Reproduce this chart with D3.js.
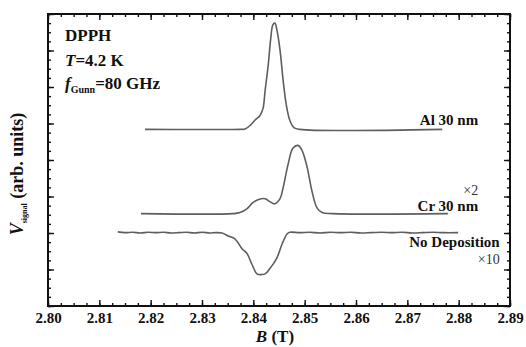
<!DOCTYPE html>
<html>
<head>
<meta charset="utf-8">
<script src="https://cdnjs.cloudflare.com/ajax/libs/d3/7.8.5/d3.min.js"></script>
<style>
  body { margin: 0; background: #fff; }
  svg text { font-family: "Liberation Serif", "Times New Roman", Times, serif !important; }
</style>
</head>
<body>
<svg id="chart" width="526" height="347"></svg>
<script>
// x ticks (T)
var xTicks = [2.80, 2.81, 2.82, 2.83, 2.84, 2.85, 2.86, 2.87, 2.88, 2.89];

// Al 30 nm trace
var alB = [2.8189, 2.8374, 2.8384, 2.8394, 2.8403, 2.8413, 2.8419, 2.8423, 2.8429, 2.8434, 2.8438, 2.8442, 2.8446, 2.8452, 2.8458, 2.8464, 2.8471, 2.8479, 2.8491, 2.8768];
var alV = [4.84, 4.84, 4.85, 4.95, 5.09, 5.22, 5.42, 5.91, 6.60, 7.34, 7.70, 7.75, 7.56, 7.01, 6.19, 5.53, 5.09, 4.89, 4.84, 4.84];

// Cr 30 nm trace (x2)
var crB = [2.8181, 2.8360, 2.8374, 2.8388, 2.8399, 2.8409, 2.8423, 2.8432, 2.8442, 2.8452, 2.8458, 2.8468, 2.8477, 2.8487, 2.8495, 2.8505, 2.8514, 2.8524, 2.8534, 2.8555, 2.8779];
var crV = [2.53, 2.53, 2.56, 2.67, 2.83, 2.91, 2.94, 2.86, 2.80, 2.94, 3.24, 3.90, 4.32, 4.40, 4.26, 3.79, 3.16, 2.69, 2.56, 2.53, 2.53];

// No deposition trace (x10)
var ndB = [2.8136, 2.8150, 2.8165, 2.8180, 2.8195, 2.8210, 2.8225, 2.8240, 2.8255, 2.8270, 2.8285, 2.8300, 2.8315, 2.8327, 2.8339, 2.8351, 2.8364, 2.8378, 2.8388, 2.8397, 2.8407, 2.8415, 2.8423, 2.8432, 2.8446, 2.8456, 2.8466, 2.8471, 2.8490, 2.8510, 2.8530, 2.8550, 2.8570, 2.8590, 2.8610, 2.8630, 2.8650, 2.8670, 2.8690, 2.8710, 2.8730, 2.8750, 2.8770, 2.8799];
var ndV = [2.03, 2.01, 2.02, 2.00, 2.02, 2.01, 2.02, 2.00, 2.01, 2.02, 2.00, 2.02, 2.00, 2.01, 2.00, 1.92, 1.84, 1.57, 1.43, 1.15, 0.88, 0.86, 0.88, 1.02, 1.32, 1.70, 1.98, 2.02, 2.01, 2.02, 2.00, 2.02, 2.01, 2.02, 2.00, 2.01, 2.02, 2.01, 2.02, 2.00, 2.01, 2.02, 2.01, 2.01];

var svg = d3.select("#chart");
var margin = {left: 48, right: 16, top: 14, bottom: 41};
var width = 526 - margin.left - margin.right;
var height = 347 - margin.top - margin.bottom;

var x = d3.scaleLinear().domain([2.80, 2.89]).range([0, width]);
var y = d3.scaleLinear().domain([0, 8]).range([height, 0]);

var g = svg.append("g").attr("transform", "translate(" + margin.left + "," + margin.top + ")");

var xMinor = d3.range(0, 37).map(function(i) { return 2.80 + i * 0.0025; });
var yMajor = d3.range(0, 9);
var yMinor = d3.range(0, 33).map(function(i) { return i * 0.25; });

function styleAxis(sel) {
  sel.select(".domain").remove();
  sel.selectAll("line").attr("stroke", "#111").attr("stroke-width", 1.4);
}

// bottom
g.append("g").attr("transform", "translate(0," + height + ")")
  .call(d3.axisBottom(x).tickValues(xMinor).tickSize(-3).tickFormat(""))
  .call(styleAxis);
g.append("g").attr("transform", "translate(0," + height + ")")
  .call(d3.axisBottom(x).tickValues(xTicks).tickSize(-6).tickPadding(14).tickFormat(d3.format(".2f")))
  .call(styleAxis)
  .call(function(s) {
    s.selectAll("text").attr("fill", "#111").attr("font-size", 15).attr("font-weight", "bold").attr("dy", "0.2em");
  });
// top
g.append("g").call(d3.axisTop(x).tickValues(xMinor).tickSize(-3).tickFormat("")).call(styleAxis);
g.append("g").call(d3.axisTop(x).tickValues(xTicks).tickSize(-6).tickFormat("")).call(styleAxis);
// left
g.append("g").call(d3.axisLeft(y).tickValues(yMinor).tickSize(-3).tickFormat("")).call(styleAxis);
g.append("g").call(d3.axisLeft(y).tickValues(yMajor).tickSize(-6).tickFormat("")).call(styleAxis);
// right
g.append("g").attr("transform", "translate(" + width + ",0)")
  .call(d3.axisRight(y).tickValues(yMinor).tickSize(-3).tickFormat("")).call(styleAxis);
g.append("g").attr("transform", "translate(" + width + ",0)")
  .call(d3.axisRight(y).tickValues(yMajor).tickSize(-6).tickFormat("")).call(styleAxis);

// frame
g.append("rect").attr("width", width).attr("height", height)
  .attr("fill", "none").attr("stroke", "#111").attr("stroke-width", 2);

var line = d3.line()
  .x(function(d) { return x(d[0]); })
  .y(function(d) { return y(d[1]); })
  .curve(d3.curveCatmullRom);

var series = [
  d3.zip(alB, alV),
  d3.zip(crB, crV),
  d3.zip(ndB, ndV)
];

g.selectAll(".trace").data(series).enter().append("path")
  .attr("class", "trace")
  .attr("d", line)
  .attr("fill", "none")
  .attr("stroke", "#5e5e5e")
  .attr("stroke-width", 1.6);

// labels for traces
var lab = g.append("g").attr("font-weight", "bold").attr("font-size", 15).attr("fill", "#111").attr("text-anchor", "end");
lab.append("text").attr("x", x(2.8838)).attr("y", 111).text("Al 30 nm");
lab.append("text").attr("x", x(2.8838)).attr("y", 197).text("Cr 30 nm");
lab.append("text").attr("x", x(2.8880)).attr("y", 233).text("No Deposition");
var mult = g.append("g").attr("font-size", 14).attr("fill", "#333").attr("text-anchor", "end");
mult.append("text").attr("x", x(2.8838)).attr("y", 181).text("×2");
mult.append("text").attr("x", x(2.8880)).attr("y", 250).text("×10");

// annotation top-left
var ann = g.append("g").attr("font-weight", "bold").attr("font-size", 17).attr("fill", "#111");
ann.append("text").attr("x", 17).attr("y", 27).text("DPPH");
var t = ann.append("text").attr("x", 17).attr("y", 52);
t.append("tspan").attr("font-style", "italic").text("T");
t.append("tspan").text("=4.2 K");
var f = ann.append("text").attr("x", 17).attr("y", 75);
f.append("tspan").attr("font-style", "italic").text("f");
f.append("tspan").attr("font-size", 10).attr("dy", 4).text("Gunn");
f.append("tspan").attr("dy", -4).text("=80 GHz");

// axis titles
var xt = svg.append("text").attr("x", margin.left + width / 2 - 4).attr("y", 342)
  .attr("text-anchor", "middle").attr("font-weight", "bold").attr("font-size", 17).attr("fill", "#111");
xt.append("tspan").attr("font-style", "italic").text("B");
xt.append("tspan").text(" (T)");

var yt = svg.append("text").attr("transform", "translate(23," + (margin.top + 160) + ") rotate(-90)")
  .attr("text-anchor", "middle").attr("font-weight", "bold").attr("font-size", 18).attr("fill", "#111");
yt.append("tspan").attr("font-style", "italic").text("V");
yt.append("tspan").attr("font-size", 8).attr("dy", 4).text("signal");
yt.append("tspan").attr("dy", -4).text(" (arb. units)");
</script>
</body>
</html>
